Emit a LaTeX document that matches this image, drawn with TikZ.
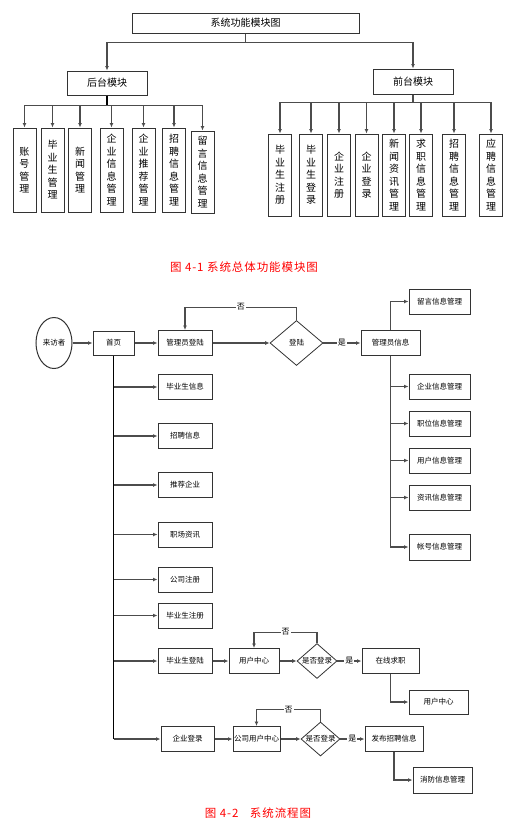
\documentclass[tikz,border=0pt]{standalone}
\usepackage{fontspec}
\setmainfont{Noto Sans CJK SC}
\usetikzlibrary{shapes.geometric, arrows.meta}

\tikzset{
  box/.style={draw=black!80, line width=1pt, fill=white, inner sep=1pt, font=\fontsize{10}{12.5}\selectfont},
  vbox/.style={box, minimum width=23pt, minimum height=84pt, align=center},
  fbox/.style={draw=black!80, line width=1pt, fill=white, inner sep=1pt, minimum width=54pt, minimum height=25pt, font=\fontsize{7.5}{9}\selectfont},
  decision/.style={diamond, draw=black!80, line width=0.8pt, inner sep=0pt},
  every label/.style={inner sep=0pt, font=\fontsize{7.5}{9}\selectfont},
  link/.style={draw=black!70, line width=1.1pt},
  trunk/.style={draw=black, line width=1.8pt},
  arr/.style={link, -{Latex[length=4.5pt,width=4pt]}},
  tag/.style={fill=white, inner sep=1pt, font=\fontsize{8}{9}\selectfont},
  caption/.style={text=red, font=\fontsize{11.5}{13}\selectfont\addfontfeature{LetterSpace=8}}
}

\begin{document}
\begin{tikzpicture}[x=1pt, y=-1pt]
    \useasboundingbox (0,0) rectangle (510,825);
    % Module tree
    \node[box, minimum width=227pt, minimum height=20pt] (sys) at (245.5,23) {系统功能模块图};
    \node[box, minimum width=80pt, minimum height=24pt] (back) at (107,83) {后台模块};
    \node[box, minimum width=80pt, minimum height=25pt] (front) at (413,81.5) {前台模块};
    \draw[link] (sys.south) -- ++(0,9) coordinate (sysbus);
    \draw[arr] (sysbus) -| (back.north);
    \draw[arr] (sysbus) -| (front.north);
    % Back-end modules
    \node[vbox] (bk1) at (24.5,170) {账\\号\\管\\理};
    \node[vbox] (bk2) at (52.5,170) {毕\\业\\生\\管\\理};
    \node[vbox] (bk3) at (80,170) {新\\闻\\管\\理};
    \node[vbox] (bk4) at (111.5,170) {企\\业\\信\\息\\管\\理};
    \node[vbox] (bk5) at (143.5,170) {企\\业\\推\\荐\\管\\理};
    \node[vbox] (bk6) at (174,170) {招\\聘\\信\\息\\管\\理};
    \node[vbox, minimum height=82pt] (bk7) at (202.5,172) {留\\言\\信\\息\\管\\理};
    \draw[trunk] (back.south) -- ++(0,10) coordinate (backbus);
    \draw[arr] (backbus) -| (bk1.north);
    \draw[arr] (backbus) -| (bk2.north);
    \draw[arr] (backbus) -| (bk3.north);
    \draw[arr] (backbus) -| (bk4.north);
    \draw[arr] (backbus) -| (bk5.north);
    \draw[arr] (backbus) -| (bk6.north);
    \draw[arr] (backbus) -| (bk7.north);
    % Front-end modules
    \node[vbox, minimum height=82pt] (fr1) at (280,175) {毕\\业\\生\\注\\册};
    \node[vbox, minimum height=82pt] (fr2) at (311,175) {毕\\业\\生\\登\\录};
    \node[vbox, minimum height=82pt] (fr3) at (339,175) {企\\业\\注\\册};
    \node[vbox, minimum height=82pt] (fr4) at (366.5,175) {企\\业\\登\\录};
    \node[vbox, minimum height=82pt] (fr5) at (394,175) {新\\闻\\资\\讯\\管\\理};
    \node[vbox, minimum height=82pt] (fr6) at (421,175) {求\\职\\信\\息\\管\\理};
    \node[vbox, minimum height=82pt] (fr7) at (454,175) {招\\聘\\信\\息\\管\\理};
    \node[vbox, minimum height=82pt] (fr8) at (491,175) {应\\聘\\信\\息\\管\\理};
    \draw[link] (front.south) -- ++(0,8) coordinate (frontbus);
    \draw[arr] (frontbus) -| (fr1.north);
    \draw[arr] (frontbus) -| (fr2.north);
    \draw[arr] (frontbus) -| (fr3.north);
    \draw[arr] (frontbus) -| (fr4.north);
    \draw[arr] (frontbus) -| (fr5.north);
    \draw[arr] (frontbus) -| (fr6.north);
    \draw[arr] (frontbus) -| (fr7.north);
    \draw[arr] (frontbus) -| (fr8.north);
    \node[caption] (cap1) at (244,267) {图 4-1 系统总体功能模块图};

    % Flow chart: entry and admin branch
    \node[ellipse, draw=black!80, line width=1pt, minimum width=36pt, minimum height=51pt, inner sep=0pt, font=\fontsize{7.5}{9}\selectfont] (visitor) at (54,343) {来访者};
    \node[fbox, minimum width=41pt, minimum height=24pt] (home) at (113.5,343) {首页};
    \node[fbox] (adminlogin) at (185,343) {管理员登陆};
    \node[decision, minimum width=53pt, minimum height=45pt, label=center:登陆] (login) at (296.5,343) {};
    \node[fbox, minimum width=59pt] (admininfo) at (390.5,343) {管理员信息};
    \node[fbox, minimum width=61pt] (msgmgr) at (439.5,301.5) {留言信息管理};
    \node[fbox, minimum width=61pt] (entmgr) at (439.5,386.5) {企业信息管理};
    \node[fbox, minimum width=61pt] (jobmgr) at (439.5,423.5) {职位信息管理};
    \node[fbox, minimum width=61pt] (usermgr) at (439.5,460.5) {用户信息管理};
    \node[fbox, minimum width=61pt] (newsmgr) at (439.5,497.5) {资讯信息管理};
    \node[fbox, minimum width=61pt, minimum height=26pt] (acctmgr) at (439.5,547) {帐号信息管理};
    \draw[arr] (visitor.east) -- (home.west);
    \draw[arr] (home.east) -- (adminlogin.west);
    \draw[arr] (adminlogin.east) -- (login.west);
    \draw[arr] (login.north) -- ++(0,-13) -| (adminlogin.north) node[tag, pos=0.25] {否};
    \draw[arr] (login.east) -- (admininfo.west) node[tag, midway] {是};
    \draw[arr] (admininfo.north) |- (msgmgr.west);
    \draw[arr] (admininfo.south) |- (acctmgr.west);
    \draw[arr] (admininfo.south |- entmgr.west) -- (entmgr.west);
    \draw[arr] (admininfo.south |- jobmgr.west) -- (jobmgr.west);
    \draw[arr] (admininfo.south |- usermgr.west) -- (usermgr.west);
    \draw[arr] (admininfo.south |- newsmgr.west) -- (newsmgr.west);

    % Flow chart: public pages
    \node[fbox] (gradinfo) at (185,387) {毕业生信息};
    \node[fbox] (recruit) at (185,436) {招聘信息};
    \node[fbox] (recomm) at (185,485) {推荐企业};
    \node[fbox] (career) at (185,534.5) {职场资讯};
    \node[fbox] (compreg) at (185,579.5) {公司注册};
    \node[fbox] (gradreg) at (185,615.5) {毕业生注册};
    \node[fbox] (gradlogin) at (185,661) {毕业生登陆};
    \node[fbox, minimum width=53pt] (entlogin) at (187.5,739) {企业登录};
    \draw[trunk] (home.south) -- (home.south |- entlogin.west);
    \draw[arr] (home.south |- gradinfo.west) -- (gradinfo.west);
    \draw[arr] (home.south |- recruit.west) -- (recruit.west);
    \draw[arr] (home.south |- recomm.west) -- (recomm.west);
    \draw[arr] (home.south |- career.west) -- (career.west);
    \draw[arr] (home.south |- compreg.west) -- (compreg.west);
    \draw[arr] (home.south |- gradreg.west) -- (gradreg.west);
    \draw[arr] (home.south |- gradlogin.west) -- (gradlogin.west);
    \draw[arr] (home.south |- entlogin.west) -- (entlogin.west);

    % Flow chart: graduate login
    \node[fbox, minimum width=50pt] (usercenter) at (254,661) {用户中心};
    \node[decision, minimum width=40pt, minimum height=35pt, label=center:是否登录] (chkgrad) at (317,661) {};
    \node[fbox, minimum width=57pt] (online) at (390.5,661) {在线求职};
    \node[fbox, minimum width=59pt, minimum height=24pt] (usercenterb) at (438.5,702) {用户中心};
    \draw[arr] (gradlogin.east) -- (usercenter.west);
    \draw[arr] (usercenter.east) -- (chkgrad.west);
    \draw[arr] (chkgrad.north) -- ++(0,-11) -| (usercenter.north) node[tag, pos=0.25] {否};
    \draw[arr] (chkgrad.east) -- (online.west) node[tag, midway] {是};
    \draw[arr] (online.south) |- (usercenterb.west);

    % Flow chart: company login
    \node[fbox, minimum width=47pt] (compcenter) at (256.5,739) {公司用户中心};
    \node[decision, minimum width=39pt, minimum height=34pt, label=center:是否登录] (chkcomp) at (320.5,739) {};
    \node[fbox, minimum width=58pt] (publish) at (394,739) {发布招聘信息};
    \node[fbox, minimum width=59pt, minimum height=26pt] (notice) at (442.5,780) {消防信息管理};
    \draw[arr] (entlogin.east) -- (compcenter.west);
    \draw[arr] (compcenter.east) -- (chkcomp.west);
    \draw[arr] (chkcomp.north) -- ++(0,-12) -| (compcenter.north) node[tag, pos=0.25] {否};
    \draw[arr] (chkcomp.east) -- (publish.west) node[tag, midway] {是};
    \draw[arr] (publish.south) |- (notice.west);
    \node[caption] (cap2) at (258,813) {图 4-2\quad 系统流程图};
\end{tikzpicture}
\end{document}
